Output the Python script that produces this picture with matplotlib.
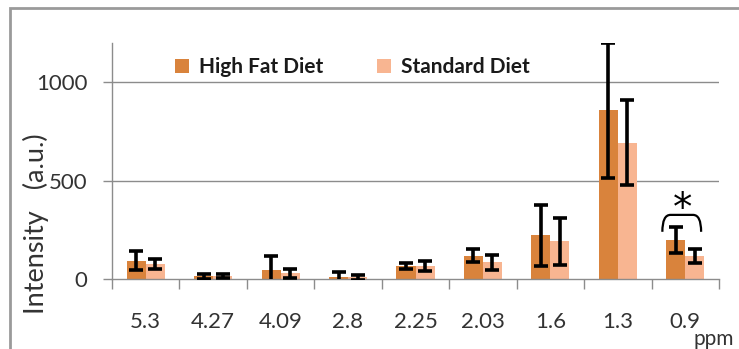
import matplotlib
matplotlib.use("Agg")
import matplotlib.pyplot as plt
import numpy as np
from matplotlib.patches import Rectangle, PathPatch
from matplotlib.path import Path

categories = ["5.3", "4.27", "4.09", "2.8", "2.25", "2.03", "1.6", "1.3", "0.9"]
hfd_values = [92, 14, 48, 10, 66, 119, 223, 857, 197]
hfd_errors = [48, 13, 68, 26, 17, 34, 155, 343, 65]
sd_values = [78, 14, 28, 8, 66, 85, 192, 694, 117]
sd_errors = [25, 10, 22, 14, 24, 39, 120, 217, 35]
series_names = ["High Fat Diet", "Standard Diet"]
yticks = [0, 500, 1000]

W, H = 739, 349
fig = plt.figure(figsize=(W / 100, H / 100), dpi=100)
plt.rcParams['font.family'] = ['Lato', 'DejaVu Sans']

ax = fig.add_axes([112 / W, 1 - 279 / H, (719 - 112) / W, (279 - 43) / H])

hfd_color = "#D9833C"
sd_color = "#F8B591"
grid_color = "#8C8C8C"
text_color = "#333333"

x = np.arange(len(categories))
bw = 0.282
ax.bar(x - bw / 2, hfd_values, bw, color=hfd_color, label=series_names[0], zorder=2)
ax.bar(x + bw / 2, sd_values, bw, color=sd_color, label=series_names[1], zorder=2)
ax.errorbar(x - bw / 2, hfd_values, yerr=hfd_errors, fmt='none', ecolor='black',
            elinewidth=2.6, capsize=5.2, capthick=2.6, zorder=3)
ax.errorbar(x + bw / 2, sd_values, yerr=sd_errors, fmt='none', ecolor='black',
            elinewidth=2.6, capsize=5.2, capthick=2.6, zorder=3)

ax.set_xlim(-0.5, len(categories) - 0.5)
ax.set_ylim(0, 1200)
ax.set_yticks(yticks)
ax.set_yticklabels([str(v) for v in yticks], fontsize=16, color=text_color)
ax.tick_params(axis='y', direction='out', length=6.5, width=1, color=grid_color, pad=11)
for v in yticks[1:]:
    ax.axhline(v, color=grid_color, lw=1, zorder=1)

ax.set_xticks(x)
ax.set_xticklabels(categories, fontsize=16, color=text_color)
ax.tick_params(axis='x', length=0, pad=24)
ax.set_xticks(np.arange(len(categories) + 1) - 0.5, minor=True)
ax.tick_params(axis='x', which='minor', direction='out', length=7, width=1, color=grid_color)

for s in ['top', 'right']:
    ax.spines[s].set_visible(False)
for s in ['left', 'bottom']:
    ax.spines[s].set_color(grid_color)
    ax.spines[s].set_linewidth(1)

# significance bracket
x1, x2, yb, yt = 7.66, 8.235, 240, 326
verts = [(x1, yb), (x1, yt), (x1 + 0.12, yt), (x2 - 0.12, yt), (x2, yt), (x2, yb)]
codes = [Path.MOVETO, Path.CURVE3, Path.CURVE3, Path.LINETO, Path.CURVE3, Path.CURVE3]
ax.add_patch(PathPatch(Path(verts, codes), fill=False, lw=1.6, color='black', zorder=4))
ax.text(7.955, 300, "*", ha='center', va='baseline', fontsize=28, color='black',
        family='DejaVu Sans')

leg = ax.legend(loc='upper left', bbox_to_anchor=(0.09, 0.975), ncol=2, frameon=False,
                prop={'weight': 'bold', 'size': 15}, handlelength=0.65, handleheight=0.65,
                handletextpad=0.5, columnspacing=2.6, borderaxespad=0)
for t in leg.get_texts():
    t.set_color("#1a1a1a")

fig.text(36 / W, 1 - 224 / H, "Intensity   (a.u.)", rotation=90, ha='center', va='center',
         fontsize=19.5, color=text_color)
fig.text(714 / W, 1 - 339 / H, "ppm", ha='center', va='center', fontsize=15, color=text_color)

fig.patches.append(Rectangle((10 / W, -0.2), 1.5, 1.2 - 8 / H, transform=fig.transFigure,
                             fill=False, edgecolor="#9a9a9a", lw=2))

fig.savefig("out.png", dpi=100)
